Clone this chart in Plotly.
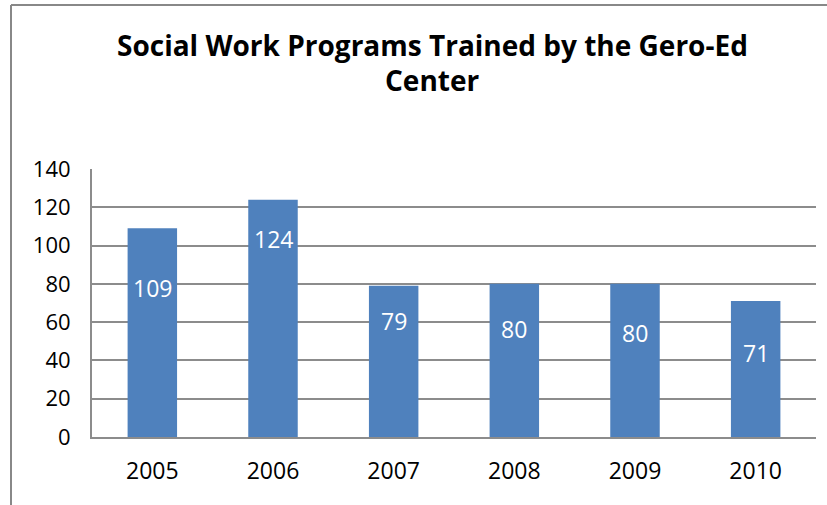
import plotly.graph_objects as go

years = ["2005", "2006", "2007", "2008", "2009", "2010"]
programs = [109, 124, 79, 80, 80, 71]
label_y = [78, 103.5, 60.5, 56.5, 54.5, 44]
y_ticks = [0, 20, 40, 60, 80, 100, 120, 140]
title_lines = ["Social Work Programs Trained by the Gero-Ed", "Center"]

W, H = 827, 505
L, R, T, B = 92, 11, 169, 68
pw, ph = W - L - R, H - T - B

def px_x(x):
    return (x - L) / pw

def px_y(y):
    return (H - B - y) / ph

FONT = "Open Sans"
fig = go.Figure()
fig.add_trace(go.Bar(
    x=years, y=programs, width=0.41,
    marker=dict(color="#4F81BD", line=dict(width=0)),
    hoverinfo="skip",
))

annotations = []
for i, (v, ly) in enumerate(zip(programs, label_y)):
    annotations.append(dict(x=i, y=ly, xref="x", yref="y", text=str(v),
                            showarrow=False, font=dict(family=FONT, size=23, color="white"),
                            xanchor="center", yanchor="middle"))
for line, ypx in zip(title_lines, [45, 80]):
    annotations.append(dict(x=px_x(432), y=px_y(ypx), xref="paper", yref="paper",
                            text="<b>" + line + "</b>", showarrow=False,
                            font=dict(family=FONT, size=28, color="black"),
                            xanchor="center", yanchor="middle"))

shapes = [
    dict(type="line", xref="paper", yref="paper", x0=px_x(11), x1=px_x(830),
         y0=px_y(5), y1=px_y(5), line=dict(color="#888888", width=2)),
    dict(type="line", xref="paper", yref="paper", x0=px_x(11), x1=px_x(11),
         y0=px_y(5), y1=px_y(510), line=dict(color="#888888", width=2)),
]

fig.update_layout(
    width=W, height=H,
    margin=dict(l=L, r=R, t=T, b=B, pad=0),
    paper_bgcolor="white", plot_bgcolor="white",
    showlegend=False,
    annotations=annotations,
    shapes=shapes,
    font=dict(family=FONT, size=22, color="black"),
    xaxis=dict(type="category", range=[-0.5, len(years) - 0.5], showgrid=False,
               showline=True, linecolor="#8c8c8c", linewidth=2, ticks="",
               tickfont=dict(family=FONT, size=23), ticklabelstandoff=12),
    yaxis=dict(range=[0, 140], tickvals=y_ticks, showgrid=True, gridcolor="#8c8c8c",
               gridwidth=2, showline=True, linecolor="#8c8c8c", linewidth=2,
               zeroline=False, ticks="", tickfont=dict(family=FONT, size=22),
               ticklabelstandoff=15),
)

fig.write_html("out.html", config={"displayModeBar": False},
               post_script="document.body.style.margin='0';")
